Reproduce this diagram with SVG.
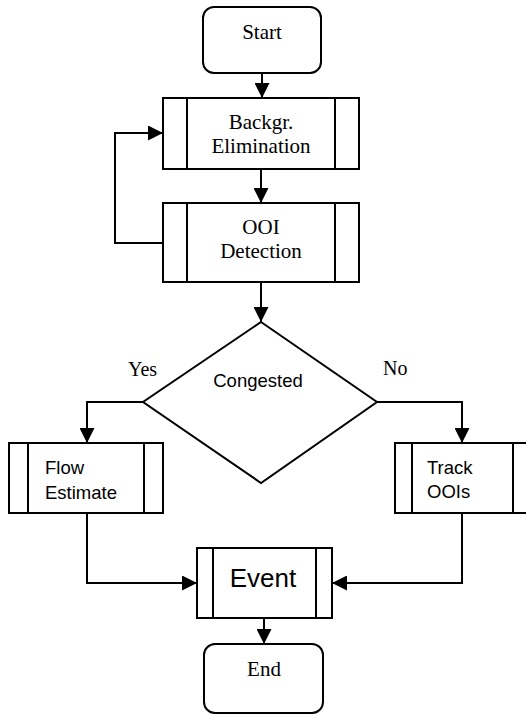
<svg xmlns="http://www.w3.org/2000/svg" width="526" height="715" viewBox="0 0 526 715">
  <style>
    .shape { fill: #ffffff; stroke: #000000; stroke-width: 2; }
    .div { stroke: #000000; stroke-width: 2; }
    .edge { fill: none; stroke: #000000; stroke-width: 2; marker-end: url(#arrow); }
    .serif { font-family: "Liberation Serif", "Times New Roman", serif; font-size: 21px; fill: #000000; }
    .label { font-family: "Liberation Serif", "Times New Roman", serif; font-size: 20px; fill: #000000; }
    .sans { font-family: "Liberation Sans", Arial, sans-serif; font-size: 18.5px; fill: #000000; }
    .big { font-family: "Liberation Sans", Arial, sans-serif; font-size: 26px; fill: #000000; }
  </style>
  <defs>
    <marker id="arrow" markerUnits="userSpaceOnUse" markerWidth="15" markerHeight="15" refX="15" refY="7.5" orient="auto">
      <path d="M0,0 L15,7.5 L0,15 Z" fill="#000000"/>
    </marker>
  </defs>
  <rect width="526" height="715" fill="#ffffff"/>

  <g id="connectors">
    <path class="edge" d="M262,73 V98"/>
    <path class="edge" d="M261,169 V203"/>
    <path class="edge" d="M163,243 H115 V133 H163"/>
    <path class="edge" d="M261,282 V322"/>
    <path class="edge" d="M143,402 H87 V443"/>
    <path class="edge" d="M377,402 H462 V443"/>
    <path class="edge" d="M87,513 V583 H197"/>
    <path class="edge" d="M462,513 V583 H332"/>
    <path class="edge" d="M264,618 V644"/>
  </g>

  <g id="start">
    <rect class="shape" x="203" y="7" width="118" height="66" rx="11"/>
    <text class="serif" x="262" y="39" text-anchor="middle">Start</text>
  </g>

  <g id="background-elimination">
    <rect class="shape" x="163" y="98" width="196" height="71"/>
    <line class="div" x1="187" y1="98" x2="187" y2="169"/>
    <line class="div" x1="335" y1="98" x2="335" y2="169"/>
    <text class="serif" x="261" y="129" text-anchor="middle">Backgr.</text>
    <text class="serif" x="261" y="153" text-anchor="middle">Elimination</text>
  </g>

  <g id="ooi-detection">
    <rect class="shape" x="163" y="203" width="196" height="79"/>
    <line class="div" x1="187" y1="203" x2="187" y2="282"/>
    <line class="div" x1="335" y1="203" x2="335" y2="282"/>
    <text class="serif" x="261" y="234" text-anchor="middle">OOI</text>
    <text class="serif" x="261" y="258" text-anchor="middle">Detection</text>
  </g>

  <g id="congested">
    <path class="shape" d="M261,322 L377,402 L261,483 L143,402 Z"/>
    <text class="sans" x="258" y="387" text-anchor="middle">Congested</text>
  </g>

  <g id="labels">
    <text class="label" x="128" y="376">Yes</text>
    <text class="label" x="383" y="375">No</text>
  </g>

  <g id="flow-estimate">
    <rect class="shape" x="9" y="443" width="154" height="70"/>
    <line class="div" x1="28" y1="443" x2="28" y2="513"/>
    <line class="div" x1="144" y1="443" x2="144" y2="513"/>
    <text class="sans" x="45" y="474">Flow</text>
    <text class="sans" x="45" y="499">Estimate</text>
  </g>

  <g id="track-oois">
    <rect class="shape" x="395" y="443" width="135" height="70"/>
    <line class="div" x1="412" y1="443" x2="412" y2="513"/>
    <line class="div" x1="513" y1="443" x2="513" y2="513"/>
    <text class="sans" x="427" y="474">Track</text>
    <text class="sans" x="427" y="498">OOIs</text>
  </g>

  <g id="event">
    <rect class="shape" x="197" y="548" width="135" height="70"/>
    <line class="div" x1="213" y1="548" x2="213" y2="618"/>
    <line class="div" x1="316" y1="548" x2="316" y2="618"/>
    <text class="big" x="263" y="587" text-anchor="middle">Event</text>
  </g>

  <g id="end">
    <rect class="shape" x="204" y="644" width="119" height="69" rx="11"/>
    <text class="serif" x="264" y="676" text-anchor="middle">End</text>
  </g>
</svg>
